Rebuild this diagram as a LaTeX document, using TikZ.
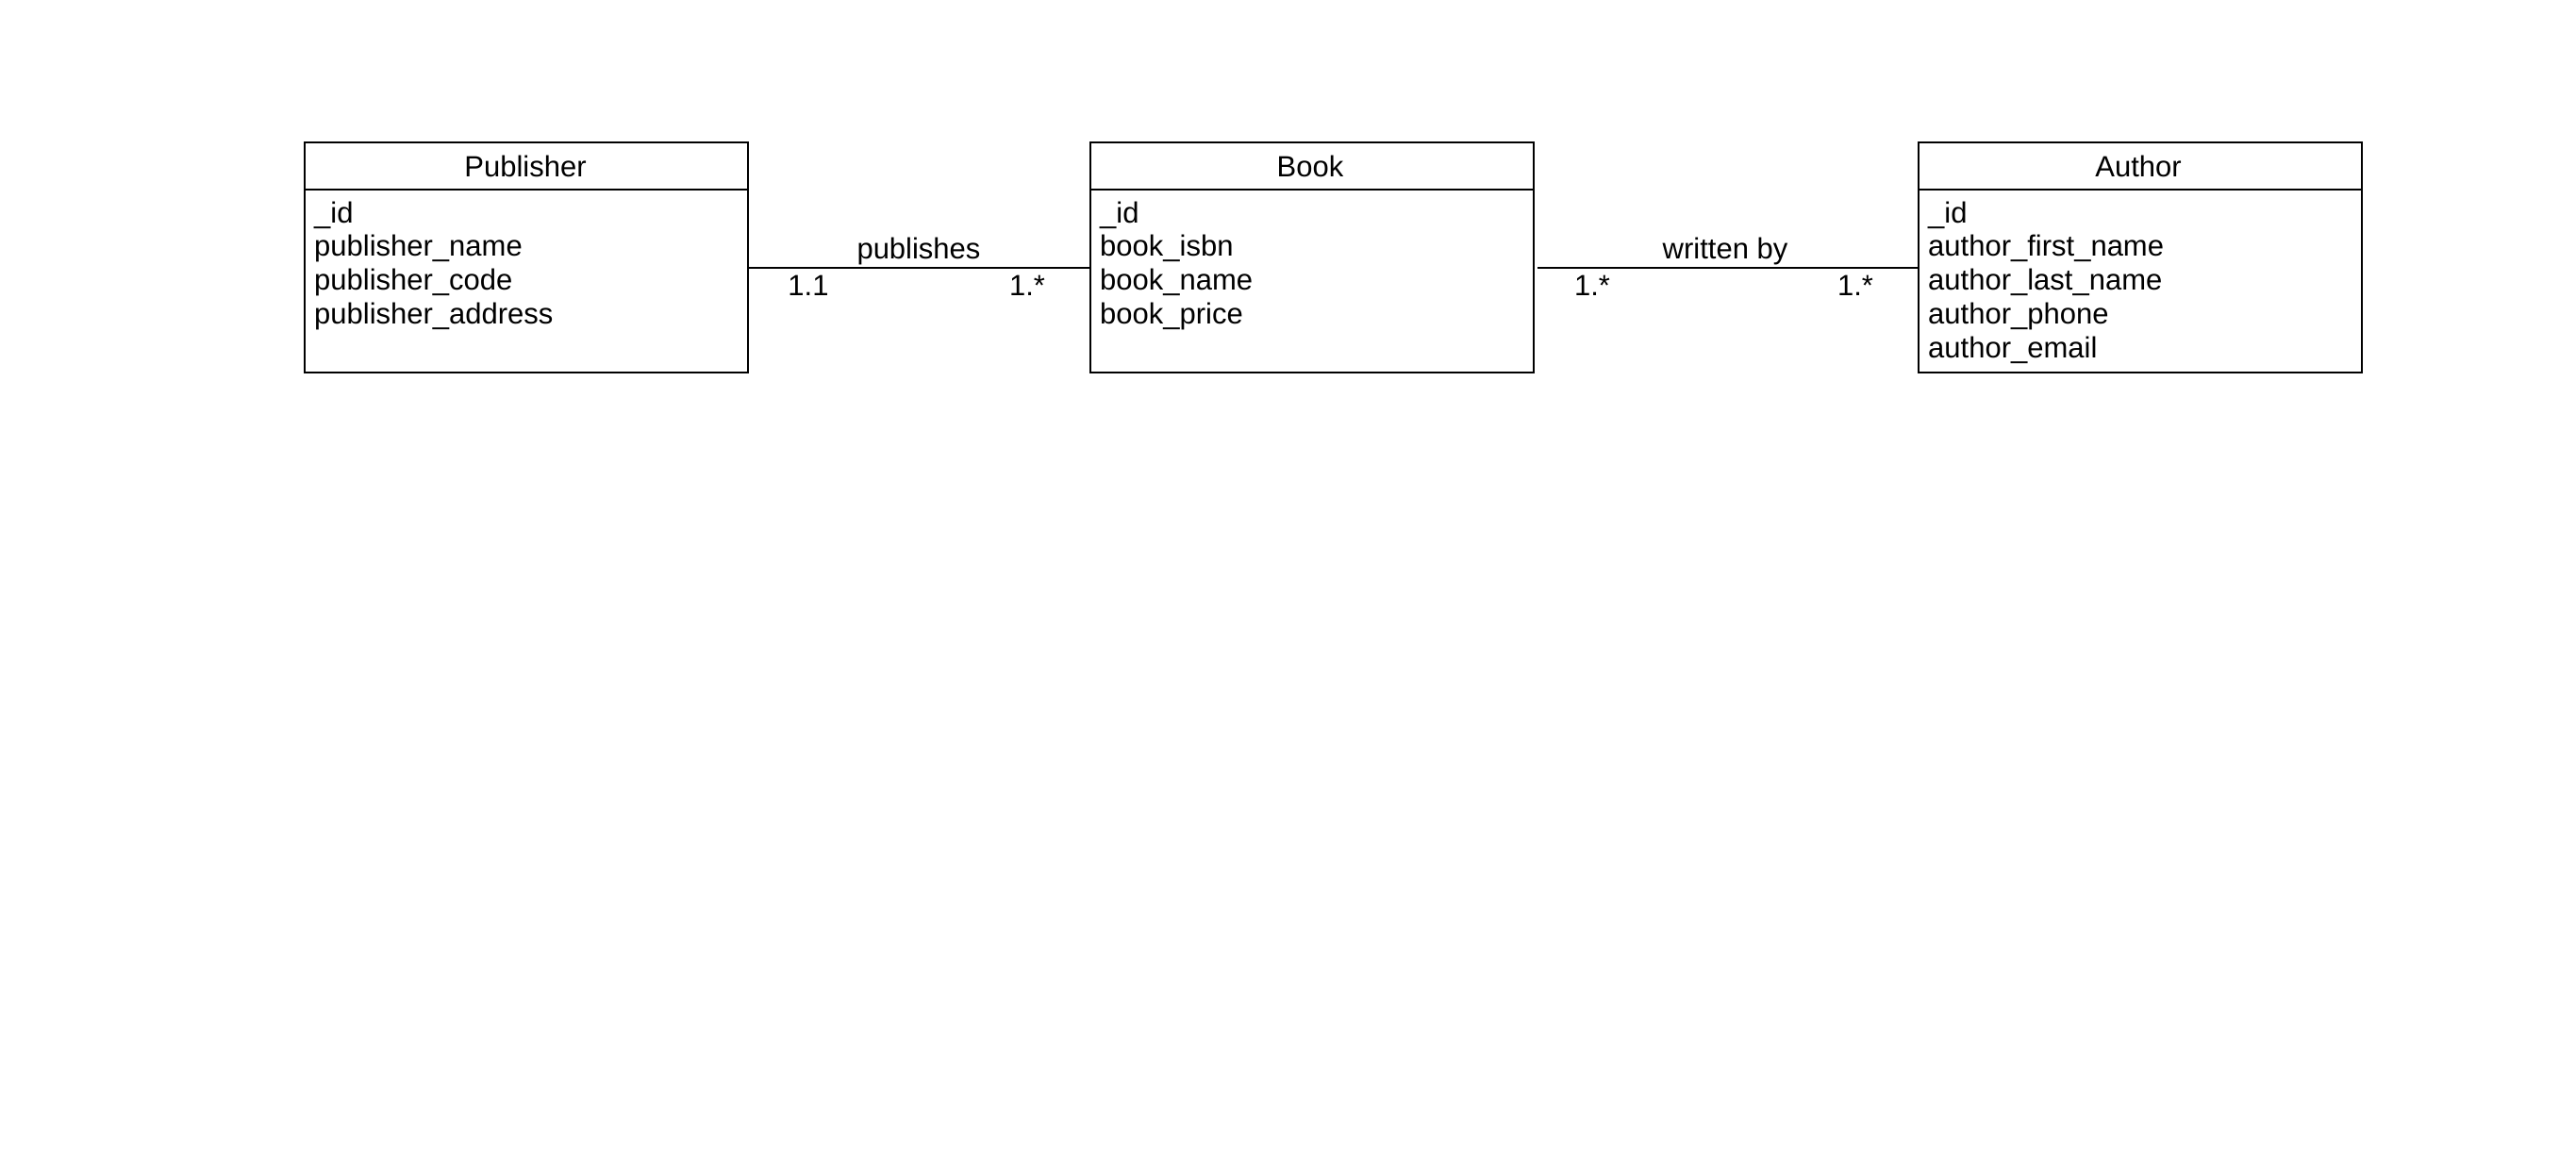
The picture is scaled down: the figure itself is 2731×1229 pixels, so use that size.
\documentclass[tikz,border=0pt]{standalone}
\usepackage{fontspec}
\setmainfont{Liberation Sans}
\begin{document}
\begin{tikzpicture}[x=1pt,y=-1pt,
  classbox/.style={draw=black, line width=2.4pt, rectangle, anchor=north west,
    minimum width=470pt, minimum height=244pt, inner sep=0pt},
  divider/.style={line width=2.4pt},
  conn/.style={line width=2.4pt},
  hdr/.style={anchor=base, inner sep=0pt, font=\fontsize{31}{36}\selectfont},
  attr/.style={anchor=base west, inner sep=0pt, font=\fontsize{31}{36}\selectfont},
  lbl/.style={anchor=base, inner sep=0pt, font=\fontsize{31}{36}\selectfont}
]
\useasboundingbox[fill=white] (0,0) rectangle (2731,1229);

% class boxes
\node[classbox] (pub) at (322,150) {};
\node[classbox] (book) at (1155,150) {};
\node[classbox] (auth) at (2033,150) {};

% header dividers
\foreach \b in {pub,book,auth}{
  \draw[divider] ([yshift=-51pt]\b.north west) -- ([yshift=-51pt]\b.north east);
}

% headers
\node[hdr] (pubh) at (557,187) {Publisher};
\node[hdr] (bookh) at (1389,187) {Book};
\node[hdr] (authh) at (2267,187) {Author};

% attributes (baselines 236 + n*35.75)
\node[attr] (pa1) at (333,236) {\_id};
\node[attr] (pa2) at (333,271.75) {publisher\_name};
\node[attr] (pa3) at (333,307.5) {publisher\_code};
\node[attr] (pa4) at (333,343.25) {publisher\_address};

\node[attr] (ba1) at (1166,236) {\_id};
\node[attr] (ba2) at (1166,271.75) {book\_isbn};
\node[attr] (ba3) at (1166,307.5) {book\_name};
\node[attr] (ba4) at (1166,343.25) {book\_price};

\node[attr] (aa1) at (2044,236) {\_id};
\node[attr] (aa2) at (2044,271.75) {author\_first\_name};
\node[attr] (aa3) at (2044,307.5) {author\_last\_name};
\node[attr] (aa4) at (2044,343.25) {author\_phone};
\node[attr] (aa5) at (2044,379) {author\_email};

% connectors
\coordinate (cy) at (0,284);
\draw[conn] (pub.east |- cy) -- (book.west |- cy);
\draw[conn, shorten <=3pt] (book.east |- cy) -- (auth.west |- cy);

% connector labels
\node[lbl] (l1) at (974,274) {publishes};
\node[lbl] (l2) at (857,313) {1.1};
\node[lbl] (l3) at (1089,313) {1.*};
\node[lbl] (l4) at (1829,274) {written by};
\node[lbl] (l5) at (1688,313) {1.*};
\node[lbl] (l6) at (1967,313) {1.*};
\end{tikzpicture}
\end{document}
